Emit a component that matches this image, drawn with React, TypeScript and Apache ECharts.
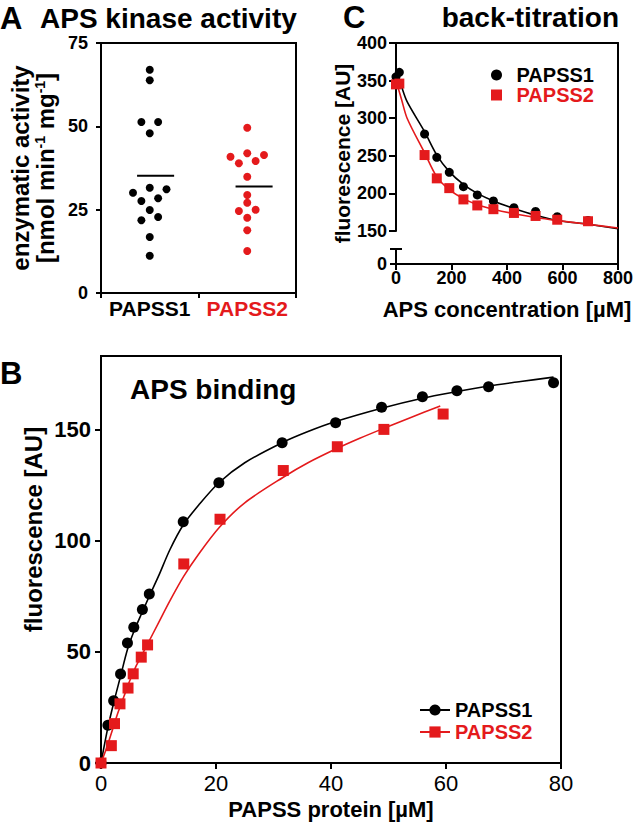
import React, { useEffect, useRef } from "react";
import * as echarts from "echarts";

const FONT = '"Liberation Sans", Arial, Helvetica, sans-serif';
const RED = "#e41a1c";
const BLACK = "#000000";

// Panel A: APS kinase activity (scatter with jitter slots)
const A_CATEGORIES = ["PAPSS1", "PAPSS2"];
const A_P1_VALUES = [67.0, 63.8, 51.3, 51.3, 47.9, 30.1, 31.6, 31.1, 27.6, 28.4, 24.9, 21.8, 22.8, 16.8, 11.2];
const A_P1_SLOTS = [0, 0, -1, 1, 0, -2, 0, 2, -1, 1, 0, -1, 1, 0, 0];
const A_P2_VALUES = [49.6, 40.9, 41.9, 41.4, 38.9, 39.6, 34.9, 29.4, 27.1, 24.6, 25.0, 22.6, 18.8, 12.6];
const A_P2_SLOTS = [0, -2, 0, 2, -1, 1, 0, 0, 0, -1, 1, 0, 0, 0];

// Panel B: APS binding
const B_P1_X = [0, 1.2, 2.2, 3.4, 4.6, 5.7, 7.2, 8.4, 14.3, 20.5, 31.5, 40.8, 48.8, 55.9, 61.9, 67.4, 78.7];
const B_P1_Y = [0, 17, 28, 40, 54, 61, 69, 76, 108.5, 126, 144, 153, 160, 164.7, 167.4, 169.2, 171];
const B_P2_X = [0, 1.8, 2.35, 3.3, 4.7, 5.6, 7.0, 8.1, 14.4, 20.7, 31.7, 41.1, 49.2, 59.5];
const B_P2_Y = [0, 7.8, 17.7, 26.6, 33.7, 40.1, 47.6, 53.1, 89.5, 109.6, 131.5, 142.2, 150, 156.9];
const B_FIT1_X = [0, 1.2, 2.2, 3.4, 4.6, 5.7, 7.2, 8.4, 10, 12, 14.3, 17, 20.5, 25, 31.5, 36, 40.8, 48.8, 55.9, 61.9, 67.4, 73, 78.7];
const B_FIT1_Y = [0, 16, 27, 39, 51, 59, 68, 75, 84, 96, 107, 116, 126, 135, 144, 149, 153.5, 159.5, 164, 167, 169.5, 171.5, 173.5];
const B_FIT2_X = [0, 1, 2, 3, 4, 5, 6, 7, 8, 10, 12, 14.4, 17, 20.6, 25, 31.7, 36, 41.1, 45, 49.2, 54, 59];
const B_FIT2_Y = [0, 7, 15, 23, 30, 37, 43, 48, 53, 63, 73, 84, 94, 106, 117, 128.5, 135, 141.5, 146, 150.5, 155.5, 160.5];
const B_Y_TICKS = [0, 50, 100, 150];

// Panel C: back-titration
const C_X = [0, 12, 103, 147, 192, 243, 293, 351, 425, 503, 581, 692];
const C_P1 = [355, 361, 279, 248, 228, 209, 198, 190, 181, 176, 169, 164];
const C_P2 = [345, 346, 251, 220, 207, 192, 184, 179, 174, 170, 165, 163];
const C_FIT_X = [0, 20, 40, 103, 147, 192, 243, 293, 351, 425, 503, 581, 692, 800];
const C_FIT1 = [364, 342, 322, 282, 251, 229, 212, 200, 190, 180, 171, 164, 159, 153];
const C_FIT2 = [350, 325, 300, 254, 222, 205, 193, 185, 179, 173, 168, 164, 159, 154];

const pairs = (xs: number[], ys: number[]) => xs.map((x, i) => [x, ys[i]]);
const mean = (v: number[]) => v.reduce((s, x) => s + x, 0) / v.length;

const AXIS_LINE = { show: true, onZero: false, lineStyle: { color: BLACK, width: 2 } };
const tick = (len: number) => ({ show: true, length: len, lineStyle: { color: BLACK, width: 2 } });
const label = (size: number, margin: number, weight = "bold") => ({
  show: true,
  color: BLACK,
  fontSize: size,
  fontWeight: weight,
  fontFamily: FONT,
  margin,
});
const NO_SPLIT = { show: false };

export default function App() {
  const ref = useRef<HTMLDivElement>(null);

  useEffect(() => {
    document.body.style.margin = "0";
    if (!ref.current) return;
    const chart = echarts.init(ref.current, null, { renderer: "svg" });

    const slotW = 0.086;
    const aP1 = A_P1_VALUES.map((v, i) => [0.5 + A_P1_SLOTS[i] * slotW, v]);
    const aP2 = A_P2_VALUES.map((v, i) => [1.5 + A_P2_SLOTS[i] * slotW, v]);
    const m1 = mean(A_P1_VALUES);
    const m2 = mean(A_P2_VALUES);

    const dot = (color: string) => ({ color, opacity: 1 });

    const option: any = {
      animation: false,
      backgroundColor: "#ffffff",
      grid: [
        { left: 101, top: 43, width: 195, height: 250, show: true, borderColor: BLACK, borderWidth: 2, containLabel: false, outerBoundsMode: "none" },
        { left: 396, top: 43, width: 222, height: 188, containLabel: false, outerBoundsMode: "none" },
        { left: 396, top: 249, width: 222, height: 15, containLabel: false, outerBoundsMode: "none" },
        { left: 396, top: 43, width: 222, height: 221, containLabel: false, outerBoundsMode: "none" },
        { left: 101, top: 356, width: 460, height: 407, show: true, borderColor: BLACK, borderWidth: 2, containLabel: false, outerBoundsMode: "none" },
      ],
      xAxis: [
        { gridIndex: 0, type: "value", position: "bottom", min: 0, max: 2, interval: 1, axisLine: AXIS_LINE, axisTick: tick(5), axisLabel: { show: false }, splitLine: NO_SPLIT },
        {
          gridIndex: 0, type: "category", position: "bottom", data: A_CATEGORIES,
          axisLine: { show: false }, axisTick: { show: false }, splitLine: NO_SPLIT,
          axisLabel: {
            show: true, margin: 5,
            formatter: (v: string) => (v === "PAPSS2" ? `{r|${v}}` : `{k|${v}}`),
            rich: {
              k: { color: BLACK, fontSize: 21, fontWeight: "bold", fontFamily: FONT },
              r: { color: RED, fontSize: 21, fontWeight: "bold", fontFamily: FONT },
            },
          },
        },
        { gridIndex: 1, type: "value", min: 0, max: 800, show: false },
        {
          gridIndex: 2, type: "value", position: "bottom", min: 0, max: 800, interval: 200,
          axisLine: AXIS_LINE, axisTick: tick(6), axisLabel: label(18, 5), splitLine: NO_SPLIT,
          name: "APS concentration [µM]", nameLocation: "middle", nameGap: 34, nameMoveOverlap: false,
          nameTextStyle: { color: BLACK, fontSize: 22, fontWeight: "bold", fontFamily: FONT },
        },
        { gridIndex: 3, type: "value", position: "top", min: 0, max: 1, axisLine: AXIS_LINE, axisTick: { show: false }, axisLabel: { show: false }, splitLine: NO_SPLIT },
        {
          gridIndex: 4, type: "value", position: "bottom", min: 0, max: 80, interval: 20,
          axisLine: AXIS_LINE, axisTick: tick(6), axisLabel: label(22, 9, "normal"), splitLine: NO_SPLIT,
          name: "PAPSS protein [µM]", nameLocation: "middle", nameGap: 35, nameMoveOverlap: false,
          nameTextStyle: { color: BLACK, fontSize: 22, fontWeight: "bold", fontFamily: FONT },
        },
      ],
      yAxis: [
        {
          gridIndex: 0, type: "value", position: "left", min: 0, max: 75, interval: 25,
          axisLine: AXIS_LINE, axisTick: tick(5), axisLabel: label(18, 13), splitLine: NO_SPLIT,
          name: "{t|enzymatic activity}\n{t|[nmol min}{s|-1}{t| mg}{s|-1}{t|]}",
          nameLocation: "middle", nameRotate: 90, nameGap: 43, nameMoveOverlap: false,
          nameTextStyle: {
            color: BLACK, fontFamily: FONT,
            rich: {
              t: { fontSize: 24, fontWeight: "bold", fontFamily: FONT, color: BLACK, lineHeight: 25 },
              s: { fontSize: 14, fontWeight: "bold", fontFamily: FONT, color: BLACK, lineHeight: 25, verticalAlign: "top" },
            },
          },
        },
        {
          gridIndex: 1, type: "value", position: "left", min: 150, max: 400, interval: 50,
          axisLine: AXIS_LINE, axisTick: tick(7), axisLabel: label(18, 9), splitLine: NO_SPLIT,
        },
        {
          gridIndex: 2, type: "value", position: "left", min: 0, max: 1, interval: 1,
          axisLine: AXIS_LINE, axisTick: tick(6), splitLine: NO_SPLIT,
          axisLabel: { ...label(18, 9), formatter: (v: number) => (v === 0 ? "0" : "") },
        },
        {
          gridIndex: 2, type: "value", position: "left", min: 0, max: 1, interval: 1,
          axisLine: { show: false }, axisTick: { show: true, inside: true, length: 6, lineStyle: { color: BLACK, width: 2 } },
          axisLabel: { show: false }, splitLine: NO_SPLIT,
        },
        { gridIndex: 3, type: "value", position: "right", min: 0, max: 1, axisLine: AXIS_LINE, axisTick: { show: false }, axisLabel: { show: false }, splitLine: NO_SPLIT },
        {
          gridIndex: 3, type: "value", position: "left", min: 0, max: 1,
          axisLine: { show: false }, axisTick: { show: false }, axisLabel: { show: false }, splitLine: NO_SPLIT,
          name: "fluorescence [AU]", nameLocation: "middle", nameRotate: 90, nameGap: 43, nameMoveOverlap: false,
          nameTextStyle: { color: BLACK, fontSize: 21, fontWeight: "bold", fontFamily: FONT },
        },
        {
          gridIndex: 4, type: "value", position: "left", min: 0, max: 183,
          axisLine: AXIS_LINE,
          axisTick: { ...tick(6), customValues: B_Y_TICKS },
          axisLabel: { ...label(22, 10), customValues: B_Y_TICKS },
          splitLine: NO_SPLIT,
          name: "fluorescence [AU]", nameLocation: "middle", nameRotate: 90, nameGap: 56, nameMoveOverlap: false,
          nameTextStyle: { color: BLACK, fontSize: 24, fontWeight: "bold", fontFamily: FONT, padding: [0, 0, 0, 60] },
        },
      ],
      legend: [
        {
          orient: "vertical", left: 414, top: 695, itemWidth: 30, itemHeight: 14, itemGap: 2,
          selectedMode: false,
          textStyle: { fontSize: 20, fontWeight: "bold", fontFamily: FONT, lineHeight: 20, color: BLACK },
          data: [
            { name: "PAPSS1", textStyle: { color: BLACK } },
            { name: "PAPSS2", textStyle: { color: RED } },
          ],
        },
        {
          orient: "vertical", left: 486, top: 60, itemWidth: 30, itemHeight: 11, itemGap: 0,
          selectedMode: false,
          textStyle: { fontSize: 20, fontWeight: "bold", fontFamily: FONT, lineHeight: 18, color: BLACK },
          data: [
            { name: "PAPSS1", icon: "circle", textStyle: { color: BLACK } },
            { name: "PAPSS2", icon: "path://M0 0H10V10H0Z", textStyle: { color: RED } },
          ],
        },
      ],
      graphic: [
        { type: "text", x: 0, y: 18, style: { text: "A", fill: BLACK, font: `bold 31px ${FONT}`, verticalAlign: "middle" } },
        { type: "text", x: 40, y: 18, style: { text: "APS kinase activity", fill: BLACK, font: `bold 28px ${FONT}`, verticalAlign: "middle" } },
        { type: "text", x: 343, y: 17, style: { text: "C", fill: BLACK, font: `bold 31px ${FONT}`, verticalAlign: "middle" } },
        { type: "text", x: 619, y: 17, style: { text: "back-titration", fill: BLACK, font: `bold 28px ${FONT}`, align: "right", verticalAlign: "middle" } },
        { type: "text", x: 0, y: 373, style: { text: "B", fill: BLACK, font: `bold 31px ${FONT}`, verticalAlign: "middle" } },
        { type: "text", x: 130, y: 389, style: { text: "APS binding", fill: BLACK, font: `bold 28px ${FONT}`, verticalAlign: "middle" } },
      ],
      series: [
        // Panel B fits (first so legend picks these)
        { type: "line", name: "PAPSS1", xAxisIndex: 5, yAxisIndex: 6, data: pairs(B_FIT1_X, B_FIT1_Y), smooth: 0.3, symbol: "circle", showSymbol: false, color: BLACK, lineStyle: { color: BLACK, width: 1.6 }, z: 3 },
        { type: "line", name: "PAPSS2", xAxisIndex: 5, yAxisIndex: 6, data: pairs(B_FIT2_X, B_FIT2_Y), smooth: 0.3, symbol: "rect", showSymbol: false, color: RED, lineStyle: { color: RED, width: 1.6 }, z: 3 },
        { type: "scatter", name: "B1", xAxisIndex: 5, yAxisIndex: 6, data: pairs(B_P1_X, B_P1_Y), symbol: "circle", symbolSize: 11, itemStyle: dot(BLACK), z: 4 },
        { type: "scatter", name: "B2", xAxisIndex: 5, yAxisIndex: 6, data: pairs(B_P2_X, B_P2_Y), symbol: "rect", symbolSize: 11, itemStyle: dot(RED), z: 5 },
        // Panel C
        { type: "line", name: "C1fit", xAxisIndex: 2, yAxisIndex: 1, data: pairs(C_FIT_X, C_FIT1), smooth: 0.3, showSymbol: false, symbol: "none", lineStyle: { color: BLACK, width: 1.6 }, z: 3 },
        { type: "line", name: "C2fit", xAxisIndex: 2, yAxisIndex: 1, data: pairs(C_FIT_X, C_FIT2), smooth: 0.3, showSymbol: false, symbol: "none", lineStyle: { color: RED, width: 1.6 }, z: 3 },
        { type: "scatter", name: "C1", xAxisIndex: 2, yAxisIndex: 1, data: pairs(C_X, C_P1), symbol: "circle", symbolSize: 9, itemStyle: dot(BLACK), z: 4 },
        { type: "scatter", name: "C2", xAxisIndex: 2, yAxisIndex: 1, data: pairs(C_X, C_P2), symbol: "rect", symbolSize: 10, itemStyle: dot(RED), z: 5 },
        // Panel A
        { type: "scatter", name: "A1", xAxisIndex: 0, yAxisIndex: 0, data: aP1, symbol: "circle", symbolSize: 8, itemStyle: dot(BLACK), z: 4 },
        { type: "scatter", name: "A2", xAxisIndex: 0, yAxisIndex: 0, data: aP2, symbol: "circle", symbolSize: 8, itemStyle: dot(RED), z: 4 },
        { type: "line", name: "Amean1", xAxisIndex: 0, yAxisIndex: 0, data: [[0.37, m1], [0.75, m1]], symbol: "none", lineStyle: { color: BLACK, width: 2 }, z: 3 },
        { type: "line", name: "Amean2", xAxisIndex: 0, yAxisIndex: 0, data: [[1.38, m2], [1.76, m2]], symbol: "none", lineStyle: { color: BLACK, width: 2 }, z: 3 },
      ],
    };

    chart.setOption(option);
    return () => chart.dispose();
  }, []);

  return <div ref={ref} style={{ width: 633, height: 840 }} />;
}
